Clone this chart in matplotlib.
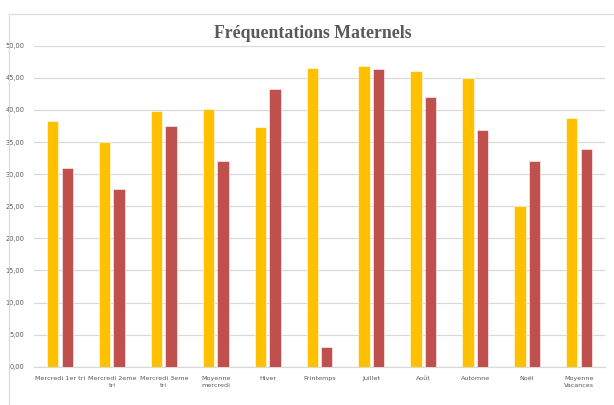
import matplotlib
matplotlib.use("Agg")
import matplotlib.pyplot as plt
from matplotlib.lines import Line2D
from matplotlib.ticker import FuncFormatter
import numpy as np

categories = ["Mercredi 1er tri", "Mercredi 2eme\ntri", "Mercredi 3eme\ntri",
              "Moyenne\nmercredi", "Hiver", "Printemps", "Juillet", "Août",
              "Automne", "Noël", "Moyenne\nVacances"]
series_yellow = [38.2, 35.0, 39.8, 40.2, 37.3, 46.6, 46.8, 46.0, 45.0, 25.1, 38.7]
series_red = [31.0, 27.7, 37.5, 32.1, 43.2, 3.0, 46.3, 42.0, 36.9, 32.1, 33.9]
yticks = [0, 5, 10, 15, 20, 25, 30, 35, 40, 45, 50]
title = "Fréquentations Maternels"

fig = plt.figure(figsize=(6.14, 4.05), dpi=100)
ax = fig.add_axes([34 / 614, (405 - 366.7) / 405, 571 / 614, 321 / 405])

x = np.arange(len(categories))
w = 0.22
gap = 0.06
ax.bar(x - (w + gap) / 2, series_yellow, width=w, color="#FFC000",
       edgecolor="white", linewidth=0.4, zorder=3)
ax.bar(x + (w + gap) / 2, series_red, width=w, color="#C0504D",
       edgecolor="white", linewidth=0.4, zorder=3)

ax.set_xlim(-0.5, len(categories) - 0.5)
ax.set_ylim(0, 50)
ax.set_yticks(yticks)
ax.yaxis.set_major_formatter(FuncFormatter(lambda v, p: f"{v:.2f}".replace(".", ",")))
ax.set_xticks(x)
ax.set_xticklabels(categories, fontsize=4.6, color="#595959", linespacing=1.5)
ax.tick_params(axis="y", labelsize=4.8, labelcolor="#595959", length=0, pad=7)
ax.tick_params(axis="x", length=0, pad=7)
ax.grid(axis="y", color="#D9D9D9", linewidth=0.9, zorder=0)
for s in ["top", "right", "left"]:
    ax.spines[s].set_visible(False)
ax.spines["bottom"].set_color("#D9D9D9")
ax.spines["bottom"].set_linewidth(0.9)

fig.text(313 / 614, 1 - 34 / 405, title, ha="center", va="center",
         fontsize=12.8, fontweight="bold", color="#595959", family="Liberation Serif")

fig.add_artist(Line2D([8.5 / 614, 8.5 / 614], [0, 1 - 14 / 405], color="#D9D9D9", linewidth=0.8))
fig.add_artist(Line2D([8.5 / 614, 1], [1 - 14 / 405, 1 - 14 / 405], color="#D9D9D9", linewidth=0.8))

fig.savefig("out.png", dpi=100)
